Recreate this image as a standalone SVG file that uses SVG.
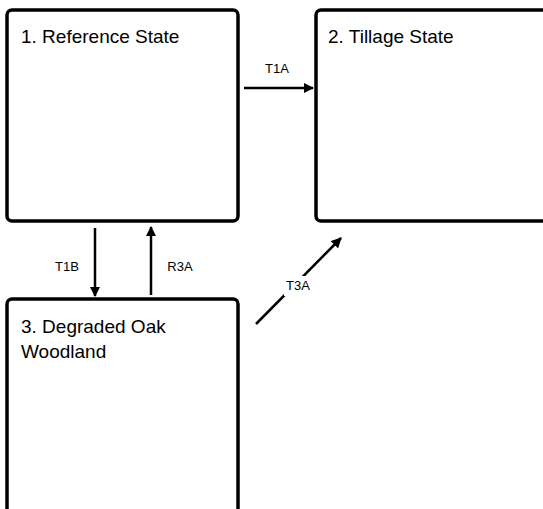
<svg xmlns="http://www.w3.org/2000/svg" width="543" height="509" viewBox="0 0 543 509">
<style>
.box{fill:#fff;stroke:#000;stroke-width:3.5}
.t{font-family:"Liberation Sans",Arial,sans-serif;font-size:19px;fill:#000}
.l{font-family:"Liberation Sans",Arial,sans-serif;font-size:13px;fill:#000;text-anchor:middle}
.c{stroke:#000;stroke-width:2.5;fill:none;marker-end:url(#ah)}
</style>
<defs>
<marker id="ah" viewBox="0 0 10 10" refX="9" refY="5" markerWidth="4.2" markerHeight="4.2" orient="auto" markerUnits="strokeWidth">
<path d="M0,0 L10,5 L0,10 z" fill="#000"/>
</marker>
</defs>
<rect width="543" height="509" fill="#fff"/>
<g id="n1"><rect class="box" x="7" y="10" width="231" height="211" rx="5"/><text class="t" x="21" y="42.5">1. Reference State</text></g>
<g id="n2"><rect class="box" x="316" y="10" width="240" height="211" rx="5"/><text class="t" x="328" y="42.5">2. Tillage State</text></g>
<g id="n3"><rect class="box" x="7" y="299" width="231" height="230" rx="5"/><text class="t" x="21" y="332.5">3. Degraded Oak</text><text class="t" x="21" y="357.5">Woodland</text></g>
<g id="connectors">
<line class="c" x1="244" y1="88" x2="313" y2="88"/>
<text class="l" x="277" y="72.5">T1A</text>
<line class="c" x1="95" y1="228" x2="95" y2="296"/>
<text class="l" x="67" y="271">T1B</text>
<line class="c" x1="151" y1="295" x2="151" y2="227"/>
<text class="l" x="180" y="271">R3A</text>
<line class="c" x1="256" y1="324" x2="341" y2="238"/>
<rect x="284" y="276" width="28" height="20" fill="#fff"/>
<text class="l" x="298" y="290">T3A</text>
</g>
</svg>
